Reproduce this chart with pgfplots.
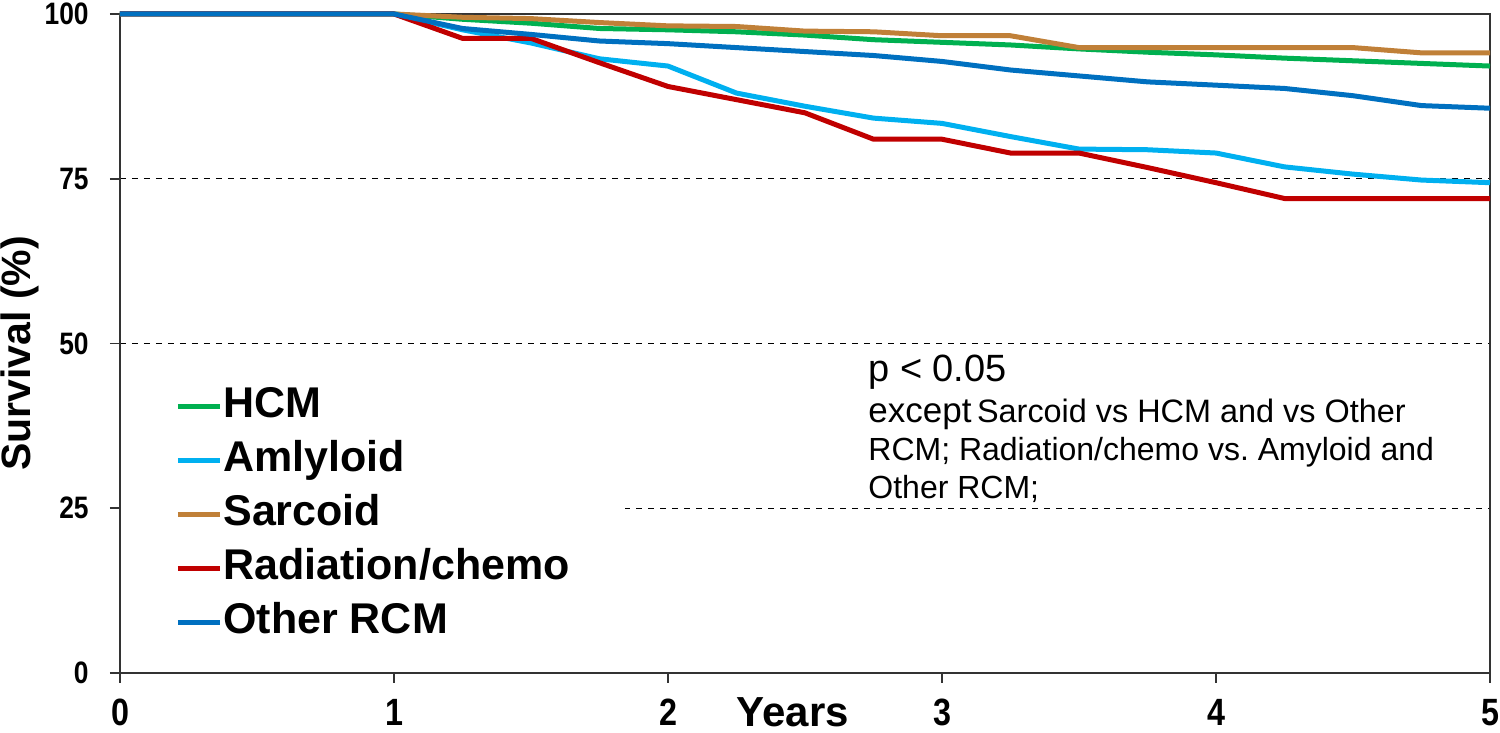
\documentclass[border=0pt]{standalone}
\usepackage{fontspec}
\setmainfont{Liberation Sans}
\newfontfamily\nb{Liberation Sans}[FakeStretch=0.85]
\usepackage{pgfplots}
\pgfplotsset{compat=1.18}
\definecolor{cHCM}{RGB}{0,176,80}
\definecolor{cAmy}{RGB}{0,176,240}
\definecolor{cSar}{RGB}{192,128,56}
\definecolor{cRad}{RGB}{192,0,0}
\definecolor{cOth}{RGB}{0,112,192}
\begin{document}
\begin{tikzpicture}
\begin{axis}[
  scale only axis, clip=false,
  width=685pt, height=329.5pt,
  xmin=0, xmax=5, ymin=0, ymax=100,
  xtick={0,1,2,3,4,5}, ytick={0,25,50,75,100},
  xtick pos=left, ytick pos=left,
  tick align=outside, major tick length=5pt,
  tick style={black!80, line width=0.8pt},
  axis line style={black!80, line width=1pt},
  ymajorgrids, grid style={black, dashed, line width=0.5pt},
  /pgf/number format/assume math mode=true,
  xticklabel style={font=\nb\bfseries\fontsize{19}{22}\selectfont, inner sep=0pt, anchor=north, yshift=-8pt},
  yticklabel style={font=\nb\bfseries\fontsize{15.5}{18}\selectfont, inner sep=0pt, anchor=east, xshift=-10.5pt},
  legend cell align=left,
  legend image code/.code={\draw[#1] (0pt,0pt) -- (21pt,0pt);},
  legend style={at={(0.0007,0.4506)}, anchor=north west, fill=white, draw=none,
    inner xsep=27pt, inner ysep=5pt, row sep=7pt,
    font=\bfseries\fontsize{21.5}{25}\selectfont,
    nodes={inner sep=0.5pt, text height=15pt, text depth=4pt}},
  every axis plot/.append style={line width=2.5pt, line join=round},
]
\addplot[cHCM] coordinates {(0,100)(1,100)(1.25,99.2)(1.5,98.6)(1.75,97.8)(2,97.6)(2.25,97.3)(2.5,96.8)(2.75,96.1)(3,95.7)(3.25,95.3)(3.5,94.7)(3.75,94.2)(4,93.8)(4.25,93.3)(4.5,92.9)(4.75,92.5)(5,92.1)};
\addlegendentry{HCM}
\addplot[cAmy] coordinates {(0,100)(1,100)(1.25,97.6)(1.5,95.6)(1.75,93.2)(2,92.1)(2.25,88.0)(2.5,86.0)(2.75,84.2)(3,83.4)(3.25,81.4)(3.5,79.5)(3.75,79.4)(4,78.9)(4.25,76.8)(4.5,75.7)(4.75,74.8)(5,74.4)};
\addlegendentry{Amlyloid}
\addplot[cSar] coordinates {(0,100)(1,100)(1.25,99.5)(1.5,99.3)(1.75,98.7)(2,98.2)(2.25,98.1)(2.5,97.4)(2.75,97.3)(3,96.7)(3.25,96.7)(3.5,94.9)(3.75,94.9)(4,94.9)(4.25,94.9)(4.5,94.9)(4.75,94.1)(5,94.1)};
\addlegendentry{Sarcoid}
\addplot[cRad] coordinates {(0,100)(1,100)(1.25,96.3)(1.5,96.3)(1.75,92.6)(2,89.0)(2.25,87.0)(2.5,85.0)(2.75,81.0)(3,81.0)(3.25,78.9)(3.5,78.9)(3.75,76.7)(4,74.4)(4.25,72.0)(4.5,72.0)(4.75,72.0)(5,72.0)};
\addlegendentry{Radiation/chemo}
\addplot[cOth] coordinates {(0,100)(1,100)(1.25,97.8)(1.5,96.9)(1.75,95.9)(2,95.5)(2.25,94.9)(2.5,94.3)(2.75,93.7)(3,92.8)(3.25,91.5)(3.5,90.6)(3.75,89.7)(4,89.2)(4.25,88.7)(4.5,87.6)(4.75,86.1)(5,85.7)};
\addlegendentry{Other RCM}
\coordinate (sw) at (rel axis cs:0,0);
\coordinate (ne) at (rel axis cs:1,1);
\node[anchor=base west, font=\fontsize{19}{22}\selectfont, inner sep=0pt] at ([yshift=-184pt]rel axis cs:0.546,1) {p < 0.05};
\node[anchor=base west, inner sep=0pt] at ([yshift=-204.5pt]rel axis cs:0.546,1) {{\fontsize{17.5}{20}\selectfont except} {\fontsize{16.2}{19}\selectfont Sarcoid vs HCM and vs Other}};
\node[anchor=base west, font=\fontsize{16}{19}\selectfont, inner sep=0pt] at ([yshift=-223.5pt]rel axis cs:0.546,1) {RCM; Radiation/chemo vs.\ Amyloid and};
\node[anchor=base west, font=\fontsize{16}{19}\selectfont, inner sep=0pt] at ([yshift=-242.5pt]rel axis cs:0.546,1) {Other RCM;};
\node[anchor=base, font=\bfseries\fontsize{21}{25}\selectfont, inner sep=0pt] at ([yshift=-27pt]rel axis cs:0.491,0) {Years};
\node[rotate=90, font=\bfseries\fontsize{20.5}{24}\selectfont, inner sep=0pt] at ([xshift=-50pt]rel axis cs:0,0.485) {Survival (\%)};
\end{axis}
\pgfresetboundingbox
\path ([shift={(-60pt,-30pt)}]sw) rectangle ([shift={(5pt,7pt)}]ne);
\end{tikzpicture}
\end{document}
